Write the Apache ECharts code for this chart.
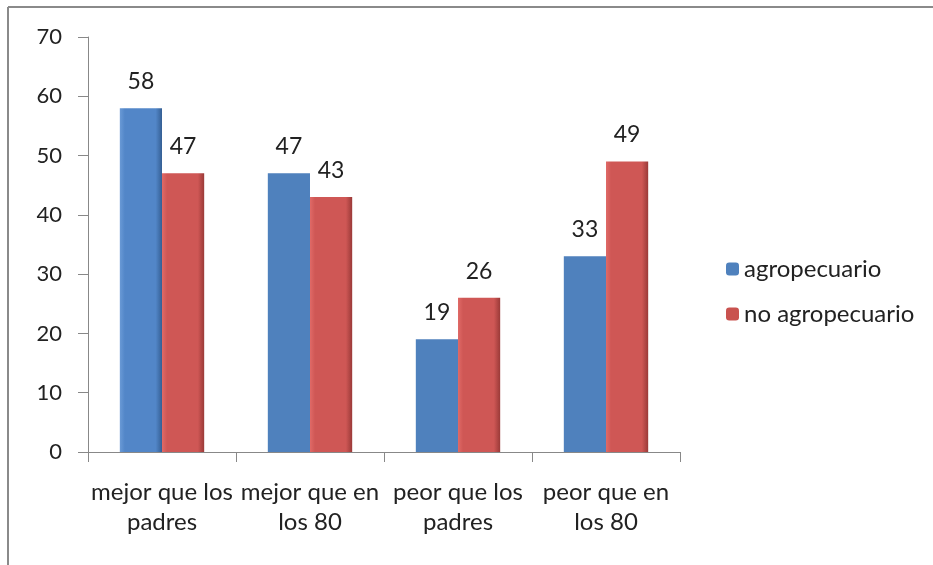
<!DOCTYPE html>
<html>
<head>
<meta charset="utf-8">
<script src="https://cdn.jsdelivr.net/npm/echarts@6/dist/echarts.min.js"></script>
<style>html,body{margin:0;padding:0;background:#fff}#c{width:933px;height:565px}</style>
</head>
<body>
<div id="c"></div>
<script>
var categories = ['mejor que los\npadres', 'mejor que en\nlos 80', 'peor que los\npadres', 'peor que en\nlos 80'];
var agropecuario = [58, 47, 19, 33];
var noAgropecuario = [47, 43, 26, 49];
var yTicks = [0, 10, 20, 30, 40, 50, 60, 70];

var FONT = 'Lato, "Open Sans", sans-serif';
function grad(c1, c2, c3) {
  return new echarts.graphic.LinearGradient(0, 0, 1, 0, [
    {offset: 0, color: c1}, {offset: 0.12, color: c2}, {offset: 0.85, color: c2}, {offset: 1, color: c3}
  ]);
}
var blueFlat = '#4f81bd';
var blueBevel = grad('#6a9ad6', '#5286c8', '#355f94');
var redBevel = grad('#e06a67', '#cf5755', '#9a3a38');

var chart = echarts.init(document.getElementById('c'));
chart.setOption({
  animation: false,
  backgroundColor: '#fff',
  textStyle: {fontFamily: FONT},
  graphic: [
    {type: 'line', shape: {x1: 8, y1: 7, x2: 933, y2: 7}, style: {stroke: '#8a8a8a', lineWidth: 2}},
    {type: 'line', shape: {x1: 8, y1: 7, x2: 8, y2: 565}, style: {stroke: '#8a8a8a', lineWidth: 2}}
  ],
  grid: {left: 88, top: 37, width: 592, height: 415, containLabel: false},
  legend: {
    orient: 'vertical', left: 721, top: 252, itemWidth: 13, itemHeight: 13, itemGap: 21,
    textStyle: {fontSize: 24, color: '#222', fontFamily: FONT},
    data: [
      {name: 'agropecuario', itemStyle: {color: blueFlat}},
      {name: 'no agropecuario', itemStyle: {color: '#c9524f'}}
    ]
  },
  xAxis: {
    type: 'category', data: categories,
    axisLine: {lineStyle: {color: '#888'}},
    axisTick: {show: true, length: 10, lineStyle: {color: '#888'}},
    axisLabel: {fontSize: 24, color: '#222', lineHeight: 30, margin: 25, interval: 0, fontFamily: FONT}
  },
  yAxis: {
    type: 'value', min: 0, max: 70, interval: 10,
    axisLine: {show: true, lineStyle: {color: '#888'}},
    axisTick: {show: true, length: 10, lineStyle: {color: '#888'}},
    splitLine: {show: false},
    axisLabel: {fontSize: 22, color: '#222', margin: 26, fontFamily: FONT,
      formatter: function (v) { return yTicks.indexOf(v) >= 0 ? String(v) : ''; }}
  },
  series: [
    {
      name: 'agropecuario', type: 'bar', barGap: '0%', barCategoryGap: '43%',
      data: agropecuario.map(function (v, i) {
        return {value: v, itemStyle: {color: i === 0 ? blueBevel : blueFlat}};
      }),
      label: {show: true, position: 'top', distance: 15, fontSize: 23, color: '#222', fontFamily: FONT}
    },
    {
      name: 'no agropecuario', type: 'bar', barGap: '0%', barCategoryGap: '43%',
      data: noAgropecuario.map(function (v) { return {value: v, itemStyle: {color: redBevel}}; }),
      label: {show: true, position: 'top', distance: 15, fontSize: 23, color: '#222', fontFamily: FONT}
    }
  ]
});
</script>
</body>
</html>
